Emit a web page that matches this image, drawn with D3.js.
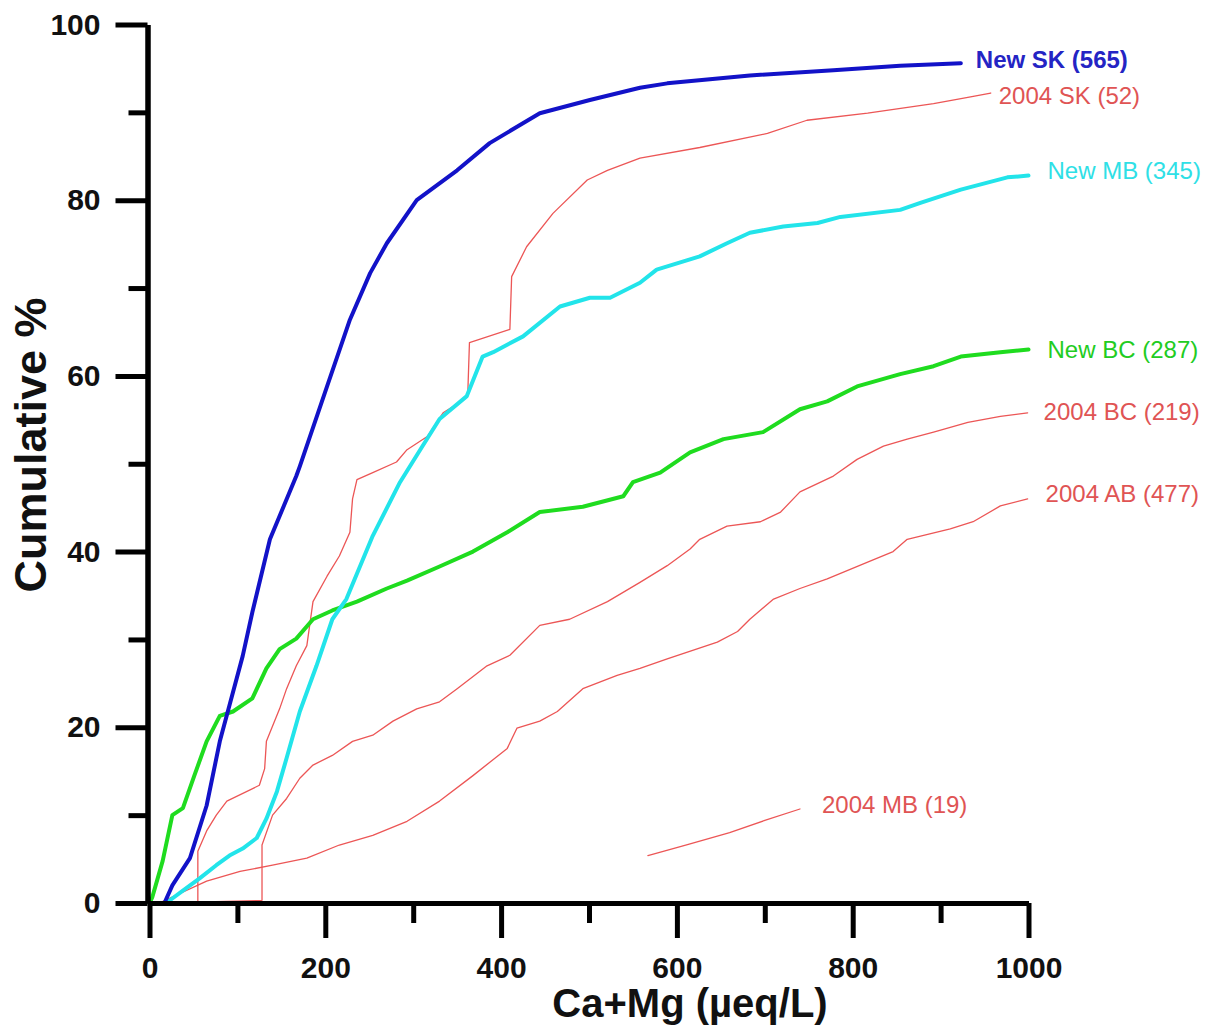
<!DOCTYPE html>
<html>
<head>
<meta charset="utf-8">
<script src="https://cdn.jsdelivr.net/npm/d3@7"></script>
<style>
  html, body { margin: 0; padding: 0; background: #ffffff; }
  svg { display: block; font-family: "Liberation Sans", Arial, sans-serif; }
</style>
</head>
<body>
<svg id="chart" width="1215" height="1029"></svg>
<script>
// Cumulative distributions of Ca+Mg (µeq/L), [concentration, cumulative %]
const newSK = [[17,0],[26,2.0],[46,5.1],[65,11.1],[80,18.4],[91,22.5],[106,28.1],[117,33.1],[137,41.4],[167,48.6],[171,49.7],[202,58.8],[228,66.4],[251,71.7],[270,75.1],[304,80.0],[350,83.4],[387,86.5],[444,89.9],[501,91.4],[558,92.8],[589,93.3],[683,94.2],[778,94.8],[854,95.3],[923,95.6]];
const newMB = [[19,0],[38,1.4],[57,2.8],[76,4.3],[91,5.4],[106,6.2],[122,7.4],[133,9.6],[145,12.7],[156,16.5],[171,21.8],[190,27.0],[208,32.3],[224,34.6],[254,41.8],[285,47.9],[308,51.6],[330,55.1],[361,57.7],[379,62.2],[391,62.7],[425,64.5],[467,67.9],[501,68.9],[524,68.9],[558,70.6],[577,72.1],[626,73.6],[657,75.1],[683,76.3],[721,77.0],[760,77.4],[786,78.1],[854,78.9],[877,79.7],[923,81.2],[976,82.6],[1000,82.8]];
const newBC = [[0,0],[3,0.6],[15,4.8],[26,10.0],[38,10.8],[51,14.5],[65,18.4],[80,21.3],[95,21.8],[117,23.3],[133,26.7],[148,28.9],[167,30.1],[186,32.3],[208,33.3],[236,34.3],[270,35.8],[293,36.7],[330,38.3],[368,40.0],[407,42.2],[444,44.5],[493,45.1],[539,46.3],[550,47.9],[581,49.0],[615,51.3],[653,52.8],[698,53.6],[740,56.2],[771,57.1],[805,58.8],[854,60.2],[892,61.1],[923,62.2],[968,62.7],[1000,63.0]];
const sk2004 = [[20,0],[55,0],[55,5.9],[65,8.2],[76,10.0],[88,11.6],[125,13.4],[131,15.3],[133,18.4],[148,22.1],[156,24.4],[167,27.0],[179,29.3],[186,34.3],[202,37.2],[216,39.5],[228,42.2],[231,46.0],[236,48.2],[254,49.0],[281,50.2],[293,51.6],[316,53.1],[334,55.8],[353,57.0],[362,57.7],[364,63.8],[410,65.3],[412,71.3],[429,74.7],[459,78.5],[498,82.3],[521,83.4],[558,84.8],[626,86.0],[703,87.6],[748,89.1],[817,89.9],[892,91.0],[931,91.7],[957,92.2]];
const bc2004 = [[17,0],[128,0.3],[128,6.6],[140,10.0],[156,11.9],[171,14.2],[186,15.7],[208,16.8],[231,18.4],[254,19.1],[277,20.7],[304,22.1],[330,22.9],[350,24.4],[384,27.0],[410,28.2],[444,31.6],[478,32.3],[521,34.3],[558,36.5],[589,38.4],[615,40.3],[626,41.4],[657,42.9],[695,43.4],[718,44.5],[740,46.8],[778,48.6],[805,50.5],[835,52.0],[862,52.8],[892,53.6],[931,54.7],[968,55.4],[999,55.8]];
const ab2004 = [[11,0],[65,2.5],[103,3.6],[140,4.3],[179,5.1],[216,6.6],[254,7.7],[293,9.3],[330,11.6],[368,14.5],[407,17.6],[418,19.9],[444,20.7],[464,21.8],[493,24.4],[532,25.9],[558,26.7],[589,27.8],[646,29.7],[669,30.9],[683,32.3],[710,34.6],[740,35.8],[771,36.9],[817,38.8],[846,40.0],[862,41.4],[911,42.6],[937,43.4],[968,45.2],[999,46.0]];
const mb2004 = [[567,5.4],[610,6.6],[660,8.0],[700,9.4],[740,10.7]];

const seriesNames = ["New SK (565)", "2004 SK (52)", "New MB (345)", "New BC (287)", "2004 BC (219)", "2004 AB (477)", "2004 MB (19)"];
const xMajorTicks = [0, 200, 400, 600, 800, 1000];
const xMinorTicks = [100, 300, 500, 700, 900];
const yMajorTicks = [0, 20, 40, 60, 80, 100];
const yMinorTicks = [10, 30, 50, 70, 90];

const svg = d3.select("#chart");
const x = d3.scaleLinear().domain([0, 1000]).range([149.5, 1028.5]);
const y = d3.scaleLinear().domain([0, 100]).range([903, 24.5]);

const series = [
  { data: sk2004, name: seriesNames[1], color: "#ec5656", text: "#e05454", width: 1.3, weight: "normal", dx: 8, dy: 5 },
  { data: bc2004, name: seriesNames[4], color: "#ec5656", text: "#e05454", width: 1.3, weight: "normal", dx: 16, dy: 1 },
  { data: ab2004, name: seriesNames[5], color: "#ec5656", text: "#e05454", width: 1.3, weight: "normal", dx: 18, dy: -3 },
  { data: mb2004, name: seriesNames[6], color: "#ec5656", text: "#e05454", width: 1.3, weight: "normal", dx: 22, dy: -2 },
  { data: newBC, name: seriesNames[3], color: "#1fdc1f", text: "#22cc22", width: 4, weight: "normal", dx: 19, dy: 2 },
  { data: newMB, name: seriesNames[2], color: "#22e4ea", text: "#2ee0e6", width: 4, weight: "normal", dx: 19, dy: -3 },
  { data: newSK, name: seriesNames[0], color: "#1212c8", text: "#2424c4", width: 4, weight: "bold", dx: 15, dy: -1 }
];

const line = d3.line().x(d => x(d[0])).y(d => y(d[1]));

// curves
svg.append("g").selectAll("path")
  .data(series)
  .join("path")
  .attr("d", d => line(d.data))
  .attr("fill", "none")
  .attr("stroke", d => d.color)
  .attr("stroke-width", d => d.width)
  .attr("stroke-linejoin", "round")
  .attr("stroke-linecap", "round");

// end labels
svg.append("g").selectAll("text")
  .data(series)
  .join("text")
  .attr("x", d => x(d.data[d.data.length - 1][0]) + d.dx)
  .attr("y", d => y(d.data[d.data.length - 1][1]) + d.dy)
  .attr("dominant-baseline", "middle")
  .attr("fill", d => d.text)
  .attr("font-size", 24)
  .attr("font-weight", d => d.weight)
  .text(d => d.name);

// axes
const axisStyle = g => {
  g.select(".domain").attr("stroke", "#000").attr("stroke-width", 5);
  g.selectAll(".tick line").attr("stroke", "#000").attr("stroke-width", 5);
  g.selectAll(".tick text").attr("fill", "#111").attr("font-size", 30).attr("font-weight", "bold")
    .attr("font-family", "'Liberation Sans', Arial, sans-serif");
};
const fmt = d3.format("d");

svg.append("g")
  .attr("transform", `translate(${x(0) - 2},0)`)
  .call(d3.axisLeft(y).tickValues(yMinorTicks).tickSize(19).tickSizeOuter(0).tickFormat(""))
  .call(axisStyle);
svg.append("g")
  .attr("transform", `translate(${x(0) - 2},0)`)
  .call(d3.axisLeft(y).tickValues(yMajorTicks).tickSize(32).tickSizeOuter(0).tickPadding(15).tickFormat(fmt))
  .call(axisStyle);

svg.append("g")
  .attr("transform", `translate(0,${y(0)})`)
  .call(d3.axisBottom(x).tickValues(xMinorTicks).tickSize(20).tickSizeOuter(0).tickFormat(""))
  .call(axisStyle);
svg.append("g")
  .attr("transform", `translate(0,${y(0)})`)
  .call(d3.axisBottom(x).tickValues(xMajorTicks).tickSize(35).tickSizeOuter(0).tickPadding(19).tickFormat(fmt))
  .call(axisStyle);

// axis titles
svg.append("text")
  .attr("x", 690)
  .attr("y", 1017)
  .attr("text-anchor", "middle")
  .attr("font-size", 40)
  .attr("font-weight", "bold")
  .attr("fill", "#111")
  .text("Ca+Mg (µeq/L)");

svg.append("text")
  .attr("transform", "translate(46,445) rotate(-90)")
  .attr("text-anchor", "middle")
  .attr("font-size", 45)
  .attr("font-weight", "bold")
  .attr("fill", "#111")
  .text("Cumulative %");
</script>
</body>
</html>
